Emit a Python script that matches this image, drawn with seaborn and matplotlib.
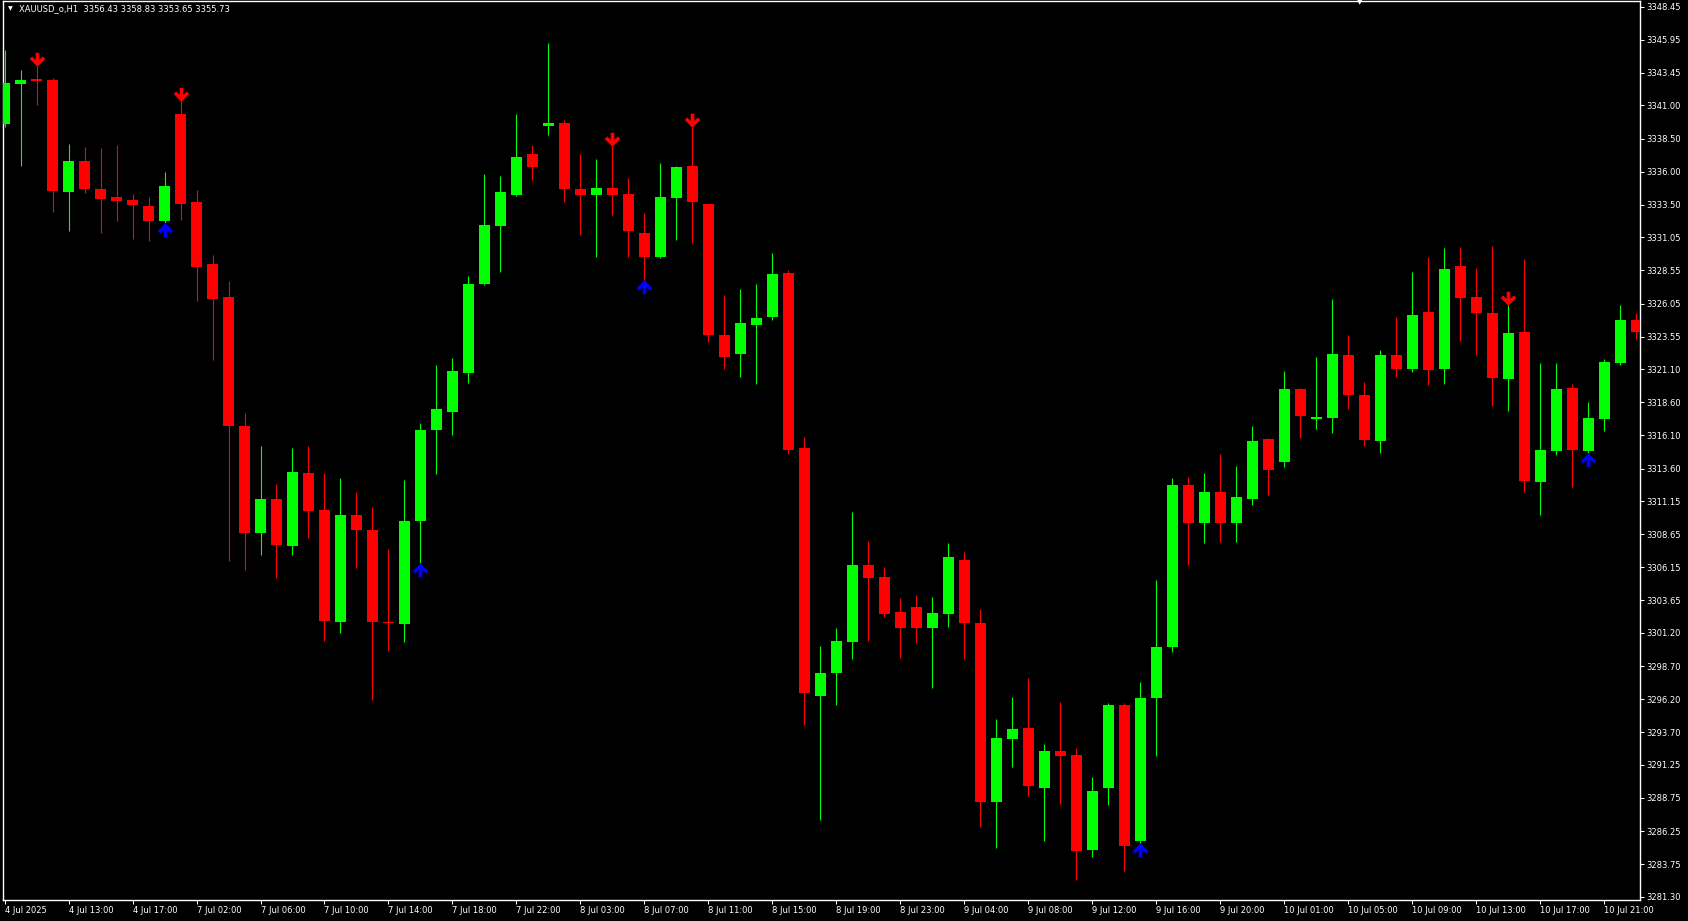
import numpy as np
import pandas as pd
import matplotlib
matplotlib.use("Agg")
import matplotlib.pyplot as plt
from matplotlib.path import Path
import seaborn as sns

# ---------------- data (XAUUSD_o, H1) ----------------
opens = [3339.62, 3342.58, 3343.02, 3342.89, 3334.50, 3336.82, 3334.70, 3334.09, 3333.86, 3333.42,
         3332.27, 3340.36, 3333.72, 3329.04, 3326.55, 3316.81, 3308.73, 3311.33, 3307.79, 3313.28,
         3310.48, 3302.03, 3310.11, 3308.97, 3302.03, 3301.90, 3309.61, 3316.51, 3317.86, 3320.82,
         3327.53, 3331.90, 3334.23, 3337.33, 3339.42, 3339.67, 3334.70, 3334.27, 3334.77, 3334.30,
         3331.38, 3329.60, 3333.99, 3336.43, 3333.55, 3323.69, 3322.22, 3324.47, 3325.07, 3328.34,
         3315.12, 3296.44, 3298.20, 3300.54, 3306.33, 3305.45, 3302.78, 3303.16, 3301.60, 3302.65,
         3306.70, 3301.97, 3288.47, 3293.22, 3294.03, 3289.52, 3292.29, 3291.99, 3284.84, 3289.53,
         3295.76, 3285.53, 3296.31, 3300.16, 3312.36, 3309.52, 3311.83, 3309.46, 3311.33, 3315.83,
         3314.08, 3319.59, 3317.34, 3317.43, 3322.16, 3319.15, 3315.70, 3322.17, 3321.14, 3325.42,
         3321.14, 3328.89, 3326.55, 3325.34, 3320.38, 3323.91, 3312.61, 3314.95, 3319.70, 3314.91,
         3317.36, 3321.59, 3324.81]
highs = [3345.18, 3343.66, 3344.00, 3343.05, 3338.11, 3337.86, 3337.77, 3338.00, 3334.33, 3334.06,
         3335.98, 3341.30, 3334.64, 3329.72, 3327.76, 3317.83, 3315.30, 3312.40, 3315.16, 3315.30,
         3313.28, 3312.88, 3311.83, 3310.72, 3307.52, 3312.74, 3317.05, 3321.43, 3321.94, 3328.13,
         3335.81, 3335.68, 3340.36, 3338.00, 3345.68, 3339.90, 3337.34, 3336.94, 3337.93, 3335.53,
         3332.88, 3336.67, 3336.40, 3339.39, 3333.60, 3326.68, 3327.16, 3327.51, 3329.88, 3328.62,
         3315.99, 3300.22, 3301.57, 3310.33, 3308.16, 3306.20, 3303.84, 3304.06, 3303.91, 3307.96,
         3307.31, 3302.98, 3294.68, 3296.34, 3297.78, 3292.80, 3295.99, 3292.50, 3290.31, 3295.88,
         3295.95, 3297.51, 3305.17, 3312.90, 3312.96, 3313.24, 3314.68, 3313.77, 3316.78, 3315.90,
         3320.93, 3319.68, 3322.03, 3326.41, 3323.69, 3320.13, 3322.55, 3325.04, 3328.43, 3329.56,
         3330.24, 3330.32, 3328.71, 3330.40, 3325.94, 3329.39, 3321.54, 3321.54, 3319.98, 3318.62,
         3321.85, 3325.92, 3325.32]
lows = [3339.37, 3336.42, 3341.03, 3332.95, 3331.53, 3334.39, 3331.37, 3332.31, 3330.96, 3330.80,
        3332.10, 3332.38, 3326.22, 3321.76, 3306.61, 3305.93, 3307.11, 3305.33, 3307.05, 3308.39,
        3300.61, 3301.22, 3306.10, 3296.17, 3299.81, 3300.55, 3306.44, 3313.18, 3316.14, 3320.08,
        3327.42, 3328.47, 3334.17, 3335.40, 3338.78, 3333.75, 3331.19, 3329.60, 3332.76, 3329.60,
        3327.75, 3329.49, 3330.83, 3330.59, 3323.17, 3321.08, 3320.49, 3320.01, 3324.79, 3314.73,
        3294.28, 3287.09, 3295.77, 3299.24, 3300.61, 3302.43, 3299.33, 3300.42, 3297.07, 3301.67,
        3299.26, 3286.58, 3284.95, 3291.11, 3288.92, 3285.52, 3288.27, 3282.56, 3284.30, 3288.22,
        3283.27, 3285.31, 3291.88, 3299.76, 3306.36, 3307.96, 3308.08, 3308.08, 3310.89, 3311.59,
        3313.74, 3315.93, 3316.56, 3316.31, 3318.06, 3315.33, 3314.80, 3320.53, 3320.91, 3319.93,
        3320.01, 3323.25, 3322.19, 3318.35, 3317.97, 3311.86, 3310.12, 3314.60, 3312.19, 3314.75,
        3316.46, 3321.44, 3323.36]
closes = [3342.72, 3342.92, 3342.82, 3334.57, 3336.82, 3334.67, 3333.96, 3333.76, 3333.46, 3332.27,
          3334.94, 3333.56, 3328.84, 3326.38, 3316.78, 3308.73, 3311.33, 3307.86, 3313.34, 3310.42,
          3302.13, 3310.11, 3308.94, 3302.06, 3301.92, 3309.65, 3316.51, 3318.10, 3320.96, 3327.53,
          3331.97, 3334.47, 3337.13, 3336.32, 3339.68, 3334.66, 3334.27, 3334.77, 3334.27, 3331.50,
          3329.60, 3334.11, 3336.36, 3333.75, 3323.65, 3322.03, 3324.59, 3324.95, 3328.27, 3315.04,
          3296.69, 3298.18, 3300.59, 3306.33, 3305.37, 3302.63, 3301.60, 3301.60, 3302.71, 3306.93,
          3301.97, 3288.47, 3293.27, 3293.95, 3289.68, 3292.29, 3291.94, 3284.77, 3289.31, 3295.76,
          3285.15, 3296.31, 3300.16, 3312.36, 3309.52, 3311.83, 3309.52, 3311.46, 3315.71, 3313.52,
          3319.59, 3317.59, 3317.52, 3322.25, 3319.12, 3315.76, 3322.17, 3321.09, 3325.19, 3321.06,
          3328.66, 3326.49, 3325.36, 3320.46, 3323.81, 3312.69, 3315.00, 3319.61, 3315.03, 3317.42,
          3321.64, 3324.81, 3323.93]

sell_signals = [2, 11, 38, 43, 94]      # red down arrows above the high
buy_signals = [10, 26, 40, 71, 99]      # blue up arrows below the low

price_ticks = [3348.45, 3345.95, 3343.45, 3341.00, 3338.50, 3336.00, 3333.50, 3331.05, 3328.55,
               3326.05, 3323.55, 3321.10, 3318.60, 3316.10, 3313.60, 3311.15, 3308.65, 3306.15,
               3303.65, 3301.20, 3298.70, 3296.20, 3293.70, 3291.25, 3288.75, 3286.25, 3283.75,
               3281.30]
time_labels = ["4 Jul 2025", "4 Jul 13:00", "4 Jul 17:00", "7 Jul 02:00", "7 Jul 06:00",
               "7 Jul 10:00", "7 Jul 14:00", "7 Jul 18:00", "7 Jul 22:00", "8 Jul 03:00",
               "8 Jul 07:00", "8 Jul 11:00", "8 Jul 15:00", "8 Jul 19:00", "8 Jul 23:00",
               "9 Jul 04:00", "9 Jul 08:00", "9 Jul 12:00", "9 Jul 16:00", "9 Jul 20:00",
               "10 Jul 01:00", "10 Jul 05:00", "10 Jul 09:00", "10 Jul 13:00", "10 Jul 17:00",
               "10 Jul 21:00"]
title_text = "XAUUSD_o,H1  3356.43 3358.83 3353.65 3355.73"

# ---------------- style ----------------
sns.set_theme(style="ticks")
plt.rcParams.update({
    "font.family": ["DejaVu Sans"],
    "figure.facecolor": "black",
    "axes.facecolor": "black",
    "savefig.facecolor": "black",
    "axes.edgecolor": "white",
    "xtick.color": "white",
    "ytick.color": "white",
})

BULL = "#00ff00"
BEAR = "#ff0000"
BLUE = "#0000ff"
W, H = 1688, 921

df = pd.DataFrame({"open": opens, "high": highs, "low": lows, "close": closes})
df["idx"] = np.arange(len(df))
df["color"] = np.where(df["close"] >= df["open"], BULL, BEAR)
df["bottom"] = np.minimum(df["open"], df["close"])
df["body"] = np.maximum((df["close"] - df["open"]).abs(), 0.09)

fig = plt.figure(figsize=(W / 100, H / 100), dpi=100)
ax = fig.add_axes([3 / W, 21 / H, (1640 - 3) / W, (900 - 1) / H])

# wicks
ax.vlines(df["idx"], df["low"], df["high"], colors=df["color"], linewidth=0.8, zorder=2)
# bodies
ax.bar(df["idx"], df["body"], bottom=df["bottom"], width=0.69, color=df["color"],
       linewidth=0, zorder=3)

# signal arrows (bold chevron arrows)
down_arrow = Path([(-0.24, 1.0), (0.24, 1.0), (0.24, 0.08), (0.68, 0.52), (1.0, 0.2),
                   (0.0, -0.82), (-1.0, 0.2), (-0.68, 0.52), (-0.24, 0.08), (-0.24, 1.0)],
                  closed=True)
up_arrow = Path([(x, -y) for x, y in down_arrow.vertices], closed=True)

sell = pd.DataFrame({"idx": sell_signals, "y": [highs[i] + 0.45 for i in sell_signals]})
buy = pd.DataFrame({"idx": buy_signals, "y": [lows[i] - 0.40 for i in buy_signals]})
sns.scatterplot(data=sell, x="idx", y="y", marker=down_arrow, s=125, color=BEAR,
                linewidth=0, ax=ax, zorder=5, legend=False)
sns.scatterplot(data=buy, x="idx", y="y", marker=up_arrow, s=125, color=BLUE,
                linewidth=0, ax=ax, zorder=5, legend=False)

# axes
ax.set_xlim(-0.094, 102.22)
ax.set_ylim(3281.05, 3348.88)
ax.set_xlabel("")
ax.set_ylabel("")
for s in ax.spines.values():
    s.set_visible(True)
    s.set_color("white")
    s.set_linewidth(1.0)

ax.yaxis.tick_right()
ax.set_yticks(price_ticks)
ax.set_yticklabels([f"{v:.2f}" for v in price_ticks])
ax.tick_params(axis="y", which="both", direction="out", length=3, width=0.75,
               colors="white", labelsize=6, pad=1.5, left=False)

ax.set_xticks(np.arange(0, 4 * len(time_labels), 4))
ax.set_xticklabels(time_labels)
ax.tick_params(axis="x", which="both", direction="out", length=3, width=0.75,
               colors="white", labelsize=6, pad=1.5, top=False)
for lab in ax.get_xticklabels():
    lab.set_horizontalalignment("left")

# header
fig.text(10 / W, 1 - 8.5 / H, "\u25bc", color="white", fontsize=4.5, ha="center", va="center")
fig.text(19 / W, 1 - 8.5 / H, title_text, color="white", fontsize=6, ha="left", va="center")
# chart shift marker
fig.text(1360 / W, 1 - 2.5 / H, "\u25bc", color="white", fontsize=5, ha="center", va="center")

fig.savefig("out.png", dpi=100, facecolor="black")
